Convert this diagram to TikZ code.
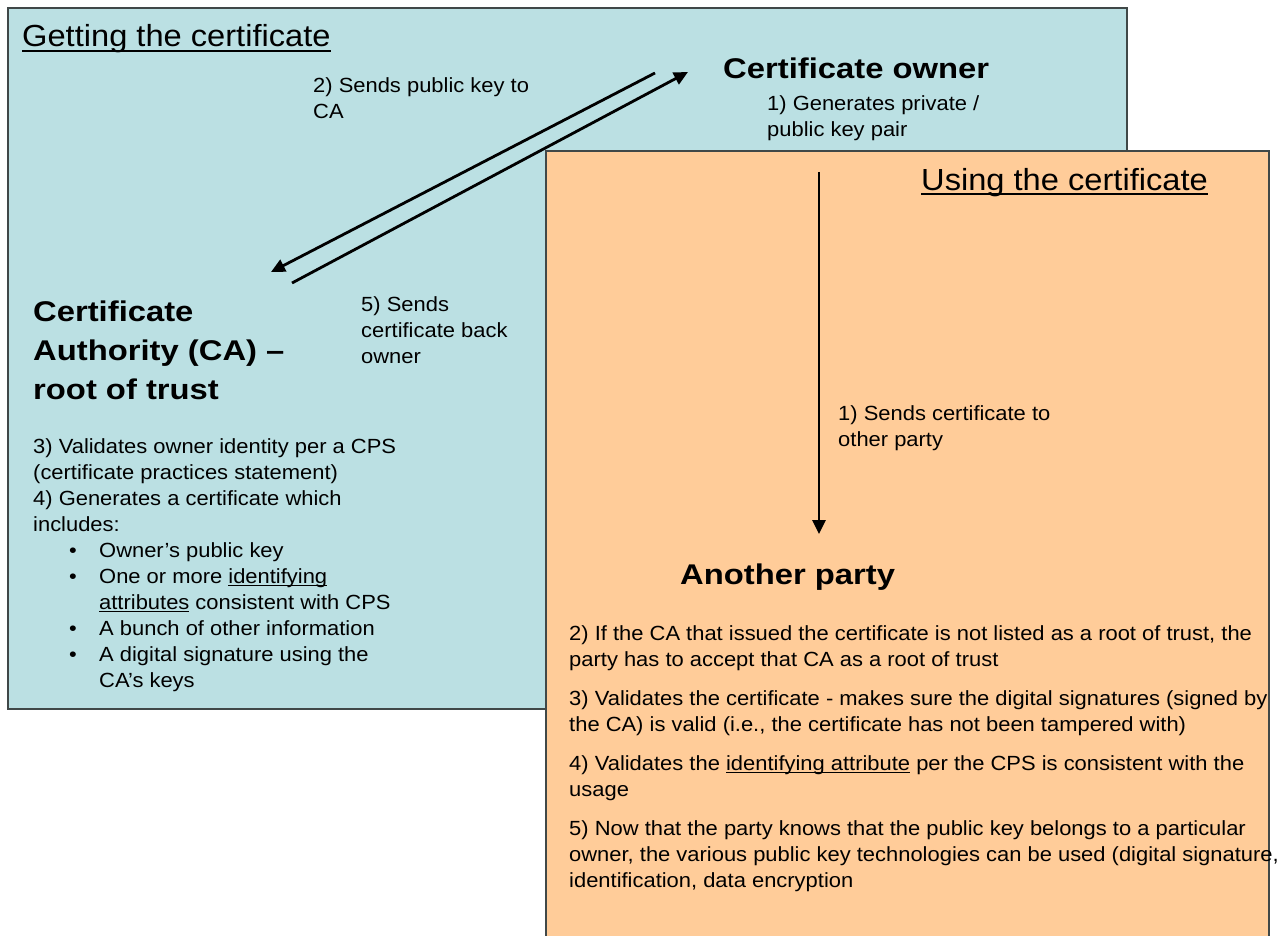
\documentclass[tikz,border=0pt]{standalone}
\usepackage{xcolor}
\usepackage{fontspec}
\setmainfont{Liberation Sans}[FakeStretch=1.07]
\newfontfamily\headfont{Liberation Sans}[FakeStretch=1.15]
\usepackage{tikz}
\usetikzlibrary{positioning}
\usetikzlibrary{arrows, arrows.meta}

\definecolor{getblue}{RGB}{187,224,227}
\definecolor{useorange}{RGB}{255,204,153}
\definecolor{boxline}{RGB}{64,72,72}

\newlength{\ulwidth}
\newcommand{\ulword}[1]{\settowidth{\ulwidth}{#1}\rlap{\rule[-3pt]{\ulwidth}{1.2pt}}#1}
\newcommand{\itm}{\hspace*{36pt}\makebox[30pt][l]{\textbullet}}
\newcommand{\itmcont}{\hspace*{66pt}}

% multi-line nodes sit on the baseline of their last line
\tikzset{
  boxtext/.style={anchor=base west, inner sep=0pt, align=left, font=\fontsize{20.5}{26}\selectfont},
  headtext/.style={anchor=base west, inner sep=0pt, font=\fontsize{30.5}{36}\selectfont},
  roletext/.style={anchor=base west, inner sep=0pt, align=left, font=\headfont\bfseries\fontsize{28.5}{39}\selectfont},
  sendarrow/.style={line width=2.8pt, >={Triangle[length=14pt, width=13pt]}, ->}
}

\begin{document}
\begin{tikzpicture}[x=1pt, y=-1pt]
\useasboundingbox (0,0) rectangle (1287,936);

% getting the certificate
\draw[fill=getblue, draw=boxline, line width=1.5pt] (8,8) rectangle (1127,709);
\node[headtext] (gethead) at (22,47) {Getting the certificate};
\draw[line width=1.8pt] ([yshift=-4pt]gethead.base west) -- ([yshift=-4pt]gethead.base east);

\node[roletext] (owner) at (723,79) {Certificate owner};
\node[boxtext] (ownerstep) at (767,137) {1) Generates private /\\public key pair};

\node[roletext] (ca) at (33,399) {Certificate\\Authority (CA) –\\root of trust};
\node[boxtext] (castep) at (33,687) {3) Validates owner identity per a CPS\\
  (certificate practices statement)\\
  4) Generates a certificate which\\
  includes:\\
  \itm Owner’s public key\\
  \itm One or more \ulword{identifying}\\
  \itmcont\ulword{attributes} consistent with CPS\\
  \itm A bunch of other information\\
  \itm A digital signature using the\\
  \itmcont CA’s keys};

\node[boxtext] (keylabel) at (313,119) {2) Sends public key to\\CA};
\node[boxtext] (certlabel) at (361,363) {5) Sends\\certificate back\\owner};

% owner <-> CA
\coordinate (keyout) at (655,73);
\coordinate (keyin) at (271,272);
\coordinate (certout) at (292,283);
\coordinate (certin) at (688,72);
\draw[sendarrow] (keyout) -- (keyin);
\draw[sendarrow] (certout) -- (certin);

% using the certificate
\fill[useorange] (546,151) rectangle (1269,940);
\draw[boxline, line width=1.5pt] (546,940) -- (546,151) -- (1269,151) -- (1269,940);
\node[headtext] (usehead) at (921,190) {Using the certificate};
\draw[line width=1.8pt] ([yshift=-4pt]usehead.base west) -- ([yshift=-4pt]usehead.base east);

\node[roletext] (party) at (680,584) {Another party};
\coordinate (usestart) at (819,172);
\coordinate (useend) at (819,534);
\draw[sendarrow] (usestart) -- (useend);
\node[boxtext] (otherlabel) at (838,446) {1) Sends certificate to\\other party};

\node[boxtext] (partystep) at (569,887) {2) If the CA that issued the certificate is not listed as a root of trust, the\\
  party has to accept that CA as a root of trust\\[13pt]
  3) Validates the certificate - makes sure the digital signatures (signed by\\
  the CA) is valid (i.e., the certificate has not been tampered with)\\[13pt]
  4) Validates the \ulword{identifying attribute} per the CPS is consistent with the\\
  usage\\[13pt]
  5) Now that the party knows that the public key belongs to a particular\\
  owner, the various public key technologies can be used (digital signature,\\
  identification, data encryption};
\end{tikzpicture}
\end{document}
